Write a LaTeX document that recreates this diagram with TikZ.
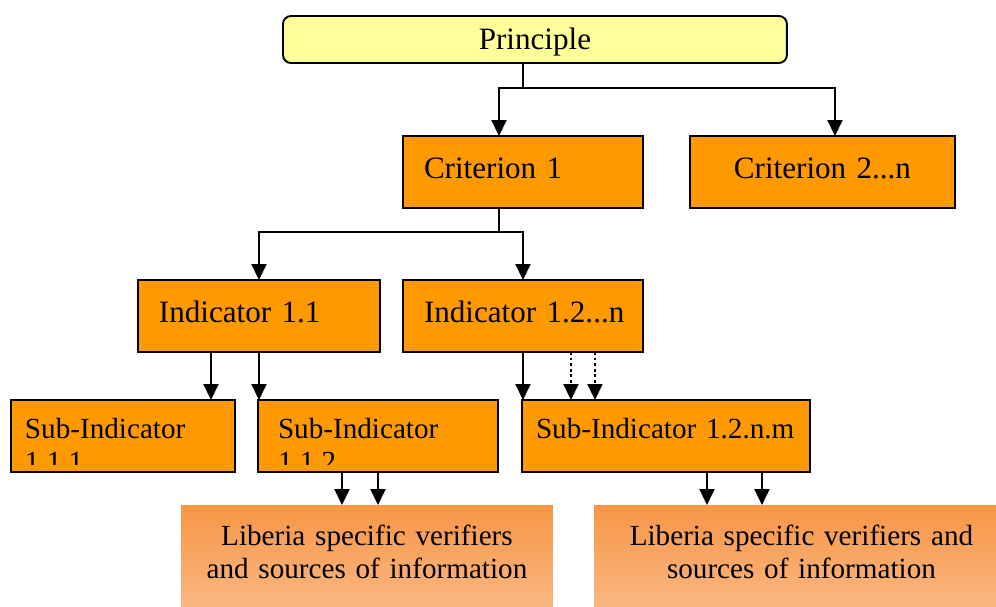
\documentclass[tikz,border=0pt]{standalone}
\usepackage{fontspec}
\setmainfont{Liberation Serif}
\usetikzlibrary{arrows.meta}
\definecolor{boxorange}{HTML}{FF9900}
\definecolor{prinyellow}{HTML}{FFFF99}
\definecolor{vertop}{HTML}{F79646}
\definecolor{verbot}{HTML}{FAB783}

\begin{document}
\begin{tikzpicture}[x=0.02cm,y=-0.02cm,
  ln/.style={line width=1.1pt},
  arr/.style={ln,-{Triangle[length=0.32cm,width=0.3cm]}},
  dotarr/.style={arr,dash pattern=on 1.6pt off 1.6pt},
  bigfont/.style={font=\fontsize{17.7}{21}\selectfont},
  smallfont/.style={font=\fontsize{16.6}{18.8}\selectfont},
  indent/.style={execute at begin node={\hspace*{#1}}},
  orangebox/.style={draw,ln,fill=boxorange,anchor=north west,outer sep=0pt,inner sep=0pt,text width=#1},
  bigbox/.style={orangebox=#1,align=left,text height=0.84cm,text depth=0.6cm,bigfont},
  subbox/.style={orangebox=#1,align=left,text height=0.76cm,text depth=0.68cm,smallfont},
  cutbox/.style 2 args={draw,ln,fill=boxorange,anchor=north west,outer sep=0pt,inner sep=0pt,
    minimum width=#2,minimum height=1.44cm,
    path picture={
      \clip (path picture bounding box.north west) rectangle ([yshift=0.16cm]path picture bounding box.south east);
      \node[anchor=north west,inner xsep=0.28cm,inner ysep=0pt,text width=4cm,align=left,
        text height=0.76cm,smallfont] at (path picture bounding box.north west) {#1};
    }},
  verbox/.style={anchor=north west,outer sep=0pt,top color=vertop,bottom color=verbot,inner sep=0pt,
    text width=#1,align=center,text height=0.8cm,text depth=1.3cm,smallfont}]
\useasboundingbox (0,0) rectangle (996,606);

% boxes
\node[draw,ln,fill=prinyellow,rounded corners=0.16cm,anchor=north west,outer sep=0pt,minimum width=10.08cm,
  inner sep=0pt,text height=0.68cm,text depth=0.26cm,bigfont] (prin) at (283,16) {Principle};
\node[bigbox=4.8cm,indent=0.42cm] (crit1) at (403,136) {Criterion 1};
\node[bigbox=5.3cm,align=center] (crit2) at (690,136) {Criterion 2...n};
\node[bigbox=4.84cm,indent=0.42cm] (ind11) at (138,280) {Indicator 1.1};
\node[bigbox=4.8cm,indent=0.42cm] (ind12) at (403,280) {Indicator 1.2...n};
\node[cutbox={Sub-Indicator\\1.1.1}{4.48cm}] (sub111) at (11,400) {};
\node[cutbox={Sub-Indicator\\1.1.2}{4.8cm}] (sub112) at (258,400) {};
\node[subbox=5.76cm,indent=0.28cm] (sub12nm) at (522,400) {Sub-Indicator 1.2.n.m};
\node[verbox=7.44cm] (ver1) at (181,505) {Liberia specific verifiers\\and sources of information};
\node[verbox=8.3cm] (ver2) at (594,505) {Liberia specific verifiers and\\sources of information};

% connectors
\coordinate (pj) at (523,88);
\coordinate (cj) at (499,232);
\draw[arr] (prin.south -| pj) -- (pj) -| ([xshift=-0.48cm]crit1.north);
\draw[arr] (pj) -| ([xshift=0.25cm]crit2.north);
\draw[arr] ([xshift=-0.48cm]crit1.south) -- (cj) -| (ind11.north);
\draw[arr] (cj) -| (ind12.north);
\draw[arr] ([xshift=-0.96cm]ind11.south) -- ([xshift=-0.96cm]ind11.south |- sub111.north);
\draw[arr] (ind11.south) -- (ind11.south |- sub112.north);
\draw[arr] (ind12.south) -- (ind12.south |- sub12nm.north);
\draw[dotarr] ([xshift=0.96cm]ind12.south) -- ([xshift=0.96cm]ind12.south |- sub12nm.north);
\draw[dotarr] ([xshift=1.44cm]ind12.south) -- ([xshift=1.44cm]ind12.south |- sub12nm.north);
\draw[arr] ([xshift=-0.72cm]sub112.south) -- ([xshift=-0.72cm]sub112.south |- ver1.north);
\draw[arr] (sub112.south) -- (sub112.south |- ver1.north);
\draw[arr] ([xshift=0.82cm]sub12nm.south) -- ([xshift=0.82cm]sub12nm.south |- ver2.north);
\draw[arr] ([xshift=1.92cm]sub12nm.south) -- ([xshift=1.92cm]sub12nm.south |- ver2.north);
\end{tikzpicture}
\end{document}
